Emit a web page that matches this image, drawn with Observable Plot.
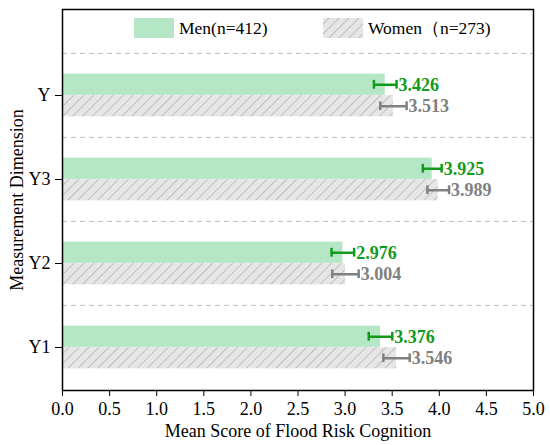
<!DOCTYPE html>
<html><head><meta charset="utf-8">
<script src="https://cdn.jsdelivr.net/npm/d3@7"></script>
<script src="https://cdn.jsdelivr.net/npm/@observablehq/plot@0.6"></script>
<style>body{margin:0;background:#fff} #chart{position:relative;width:550px;height:445px}</style>
</head><body><div id="chart"></div>
<script>
const dimensions = ["Y", "Y3", "Y2", "Y1"];
const groupLabels = ["Men(n=412)", "Women（n=273)"];
const menMean = [3.426, 3.925, 2.976, 3.376];
const womenMean = [3.513, 3.989, 3.004, 3.546];
const menErr = [0.12, 0.10, 0.12, 0.125];
const womenErr = [0.14, 0.115, 0.14, 0.14];
const xTicks = [0, 0.5, 1, 1.5, 2, 2.5, 3, 3.5, 4, 4.5, 5];

const men = dimensions.map((d, i) => ({dim: d, mean: menMean[i], err: menErr[i]}));
const women = dimensions.map((d, i) => ({dim: d, mean: womenMean[i], err: womenErr[i]}));

const FONT = "Liberation Serif, Times New Roman, serif";
const GREEN = "#b5e6c5", GREEN_TXT = "#119a1c", GRAY_TXT = "#808080";
const yTop = 52, yBot = 389;
const step = (yBot - yTop) / dimensions.length;
const half = step / 2, barH = 21.5, cap = 4.5;

function errMarks(data, color, dy, capTop, capBottom) {
  return [
    Plot.ruleY(data, {x1: d => d.mean - d.err, x2: d => d.mean + d.err, y: "dim", dy, stroke: color, strokeWidth: 2.5}),
    Plot.tickX(data, {x: d => d.mean - d.err, y: "dim", insetTop: capTop, insetBottom: capBottom, stroke: color, strokeWidth: 2.5}),
    Plot.tickX(data, {x: d => d.mean + d.err, y: "dim", insetTop: capTop, insetBottom: capBottom, stroke: color, strokeWidth: 2.5}),
    Plot.text(data, {x: d => d.mean + d.err, y: "dim", dy, dx: 2, text: d => d.mean.toFixed(3), textAnchor: "start", fill: color, fontWeight: "bold", fontSize: 18})
  ];
}

const plot = Plot.plot({
  width: 550, height: 445,
  marginTop: 9, marginBottom: 55, marginLeft: 62, marginRight: 17,
  style: {fontFamily: FONT, fontSize: "18px", color: "#000", background: "#fff"},
  x: {domain: [0, 5]},
  y: {domain: dimensions, range: [yTop, yBot], padding: 0},
  marks: [
    Plot.gridY(dimensions, {dy: -half, stroke: "#bdbdbd", strokeOpacity: 1, strokeDasharray: "5,4"}),
    Plot.barX(men, {x: "mean", y: "dim", fill: GREEN, insetTop: half - barH, insetBottom: half}),
    Plot.barX(women, {x: "mean", y: "dim", fill: "url(#hatch)", insetTop: half, insetBottom: half - barH}),
    ...errMarks(men, GREEN_TXT, -barH / 2, half - barH / 2 - cap, half + barH / 2 - cap),
    ...errMarks(women, GRAY_TXT, barH / 2, half + barH / 2 - cap, half - barH / 2 - cap),
    Plot.axisX({ticks: xTicks, tickFormat: d3.format(".1f"), tickSize: 6, tickPadding: 6, fontSize: 18,
      label: "Mean Score of Flood Risk Cognition", labelAnchor: "center", labelArrow: "none", labelOffset: 46}),
    Plot.axisY({tickSize: 7, tickPadding: 5, fontSize: 18,
      label: "Measurement Dimension", labelAnchor: "center", labelArrow: "none", labelOffset: 52}),
    Plot.frame({stroke: "#000", strokeWidth: 1.5})
  ]
});

const svg = d3.select(plot);
svg.insert("defs", ":first-child").html(`
  <pattern id="hatch" patternUnits="userSpaceOnUse" width="7" height="7" patternTransform="rotate(45)">
    <rect width="7" height="7" fill="#e6e6e6"></rect>
    <line x1="0" y1="0" x2="0" y2="7" stroke="#999999" stroke-width="1"></line>
  </pattern>`);

const leg = svg.append("g").attr("font-family", FONT).attr("font-size", 17.5).attr("text-anchor", "start");
const items = [{x: 134, fill: GREEN, tx: 179}, {x: 323, fill: "url(#hatch)", tx: 368}];
items.forEach((it, i) => {
  leg.append("rect").attr("x", it.x).attr("y", 18).attr("width", 40).attr("height", 20).attr("fill", it.fill);
  leg.append("text").attr("x", it.tx).attr("y", 28).attr("dy", "0.35em").attr("fill", "#000").text(groupLabels[i]);
});

document.getElementById("chart").appendChild(plot);
</script>
</body></html>
